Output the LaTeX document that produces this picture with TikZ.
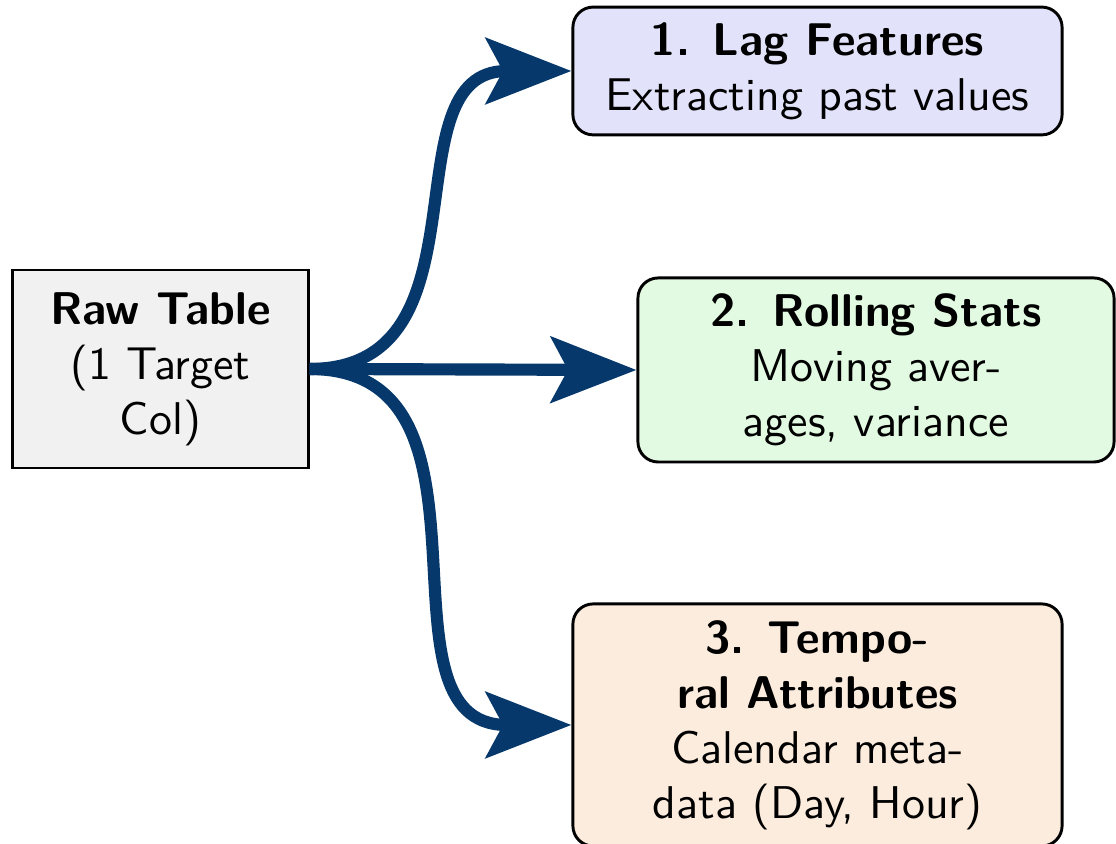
\documentclass[tikz,border=0pt]{standalone}
\usetikzlibrary{arrows.meta}
\definecolor{flownavy}{RGB}{6,56,108}
\definecolor{rawfill}{RGB}{241,241,241}
\definecolor{lagfill}{RGB}{226,226,250}
\definecolor{rollfill}{RGB}{226,250,226}
\definecolor{tempfill}{RGB}{252,236,222}
\begin{document}
\begin{tikzpicture}[x=0.2222pt,y=-0.2222pt,
  box/.style={draw=black, line width=0.65pt, align=center, inner sep=0pt,
    font=\sffamily\fontsize{10.2}{12.2}\selectfont, text=black},
  featbox/.style={box, rounded corners=4.5pt},
  flow/.style={draw=flownavy, line width=2.7pt,
    -{Stealth[length=19pt,width=14.6pt,inset=3.8pt]}}]
  \useasboundingbox (0,0) rectangle (1116,844);

  % source table
  \node[box, fill=rawfill, minimum width=65.6pt, minimum height=44pt]
    (raw) at (160.5,369) {\textbf{Raw Table}\\(1 Target\\Col)};

  % engineered feature groups
  \node[featbox, fill=lagfill, minimum width=108.7pt, minimum height=28.4pt]
    (lag) at (817.5,71) {\textbf{1. Lag Features}\\Extracting past values};
  \node[featbox, fill=rollfill, minimum width=105.8pt, minimum height=40.9pt]
    (roll) at (876,370) {\textbf{2. Rolling Stats}\\Moving aver-\\ages, variance};
  \node[featbox, fill=tempfill, minimum width=108.7pt, minimum height=53.8pt]
    (temp) at (817.5,725) {\textbf{3. Tempo-}\\\textbf{ral Attributes}\\Calendar meta-\\data (Day, Hour)};

  % branches
  \draw[flow] (raw.east) to[out=0,in=180,looseness=1.2] (lag.west);
  \draw[flow] (raw.east) -- (roll.west);
  \draw[flow] (raw.east) to[out=0,in=180,looseness=1.2] (temp.west);
\end{tikzpicture}
\end{document}
